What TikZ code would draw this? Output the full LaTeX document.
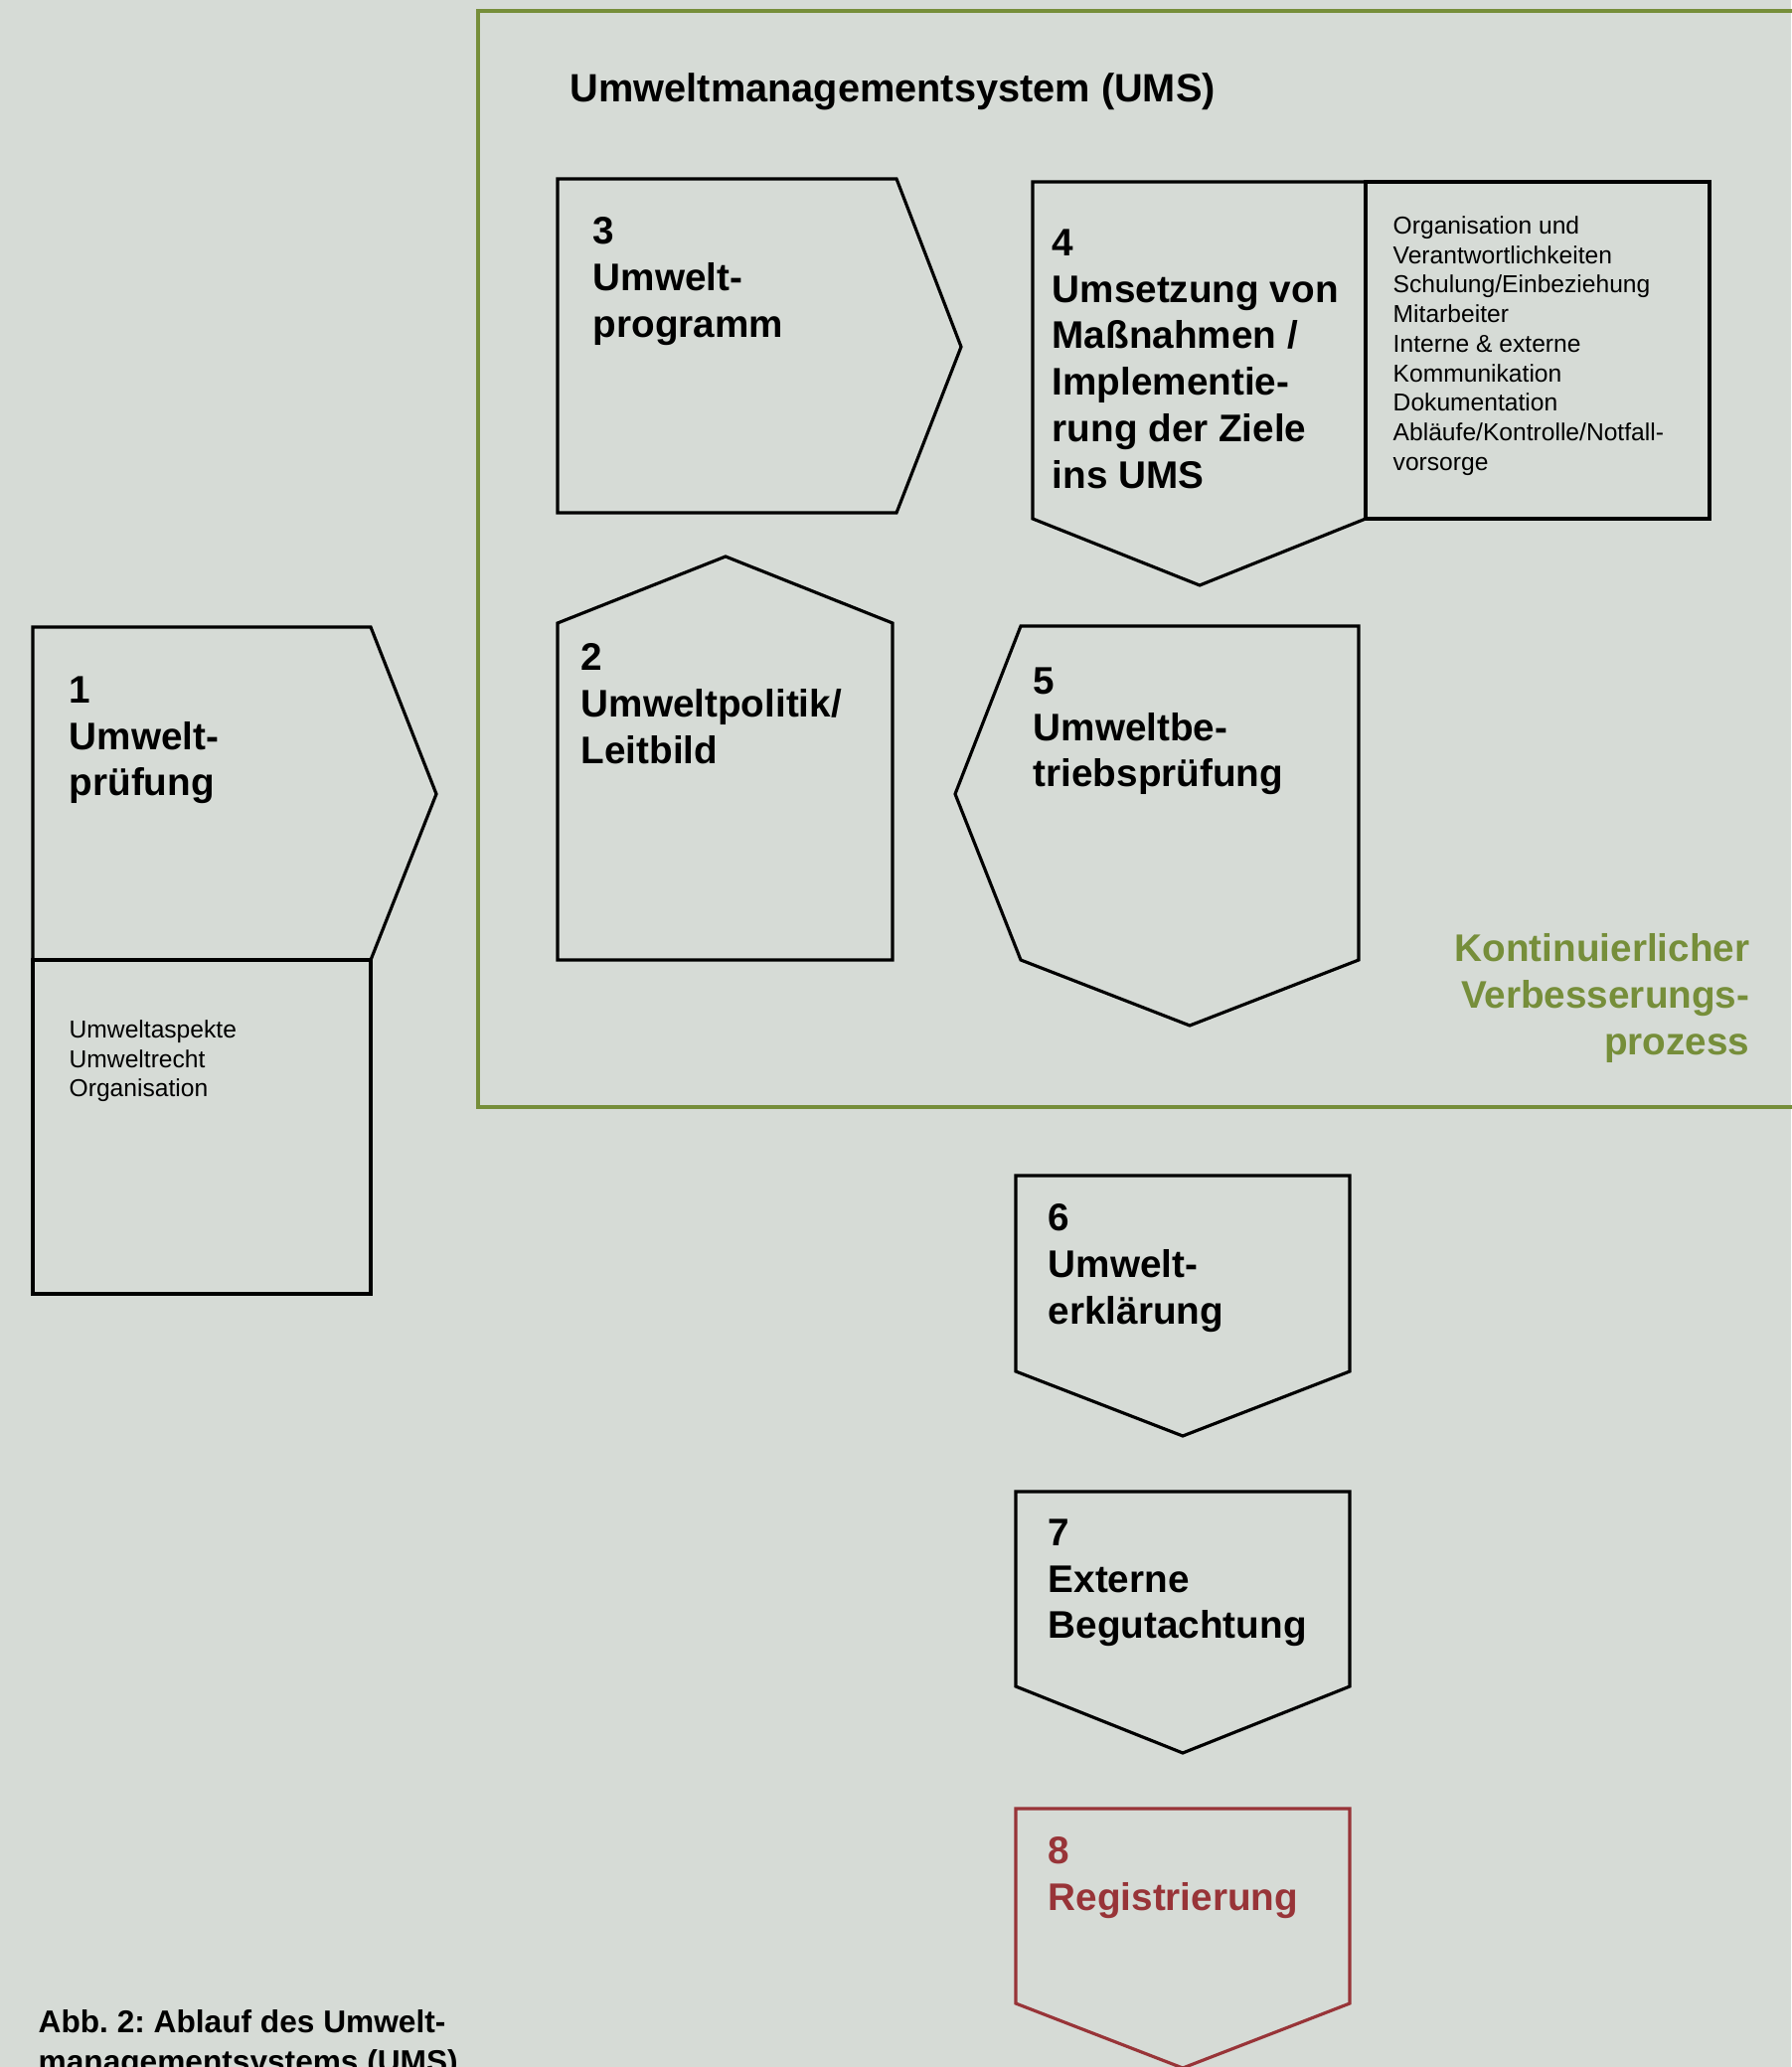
\documentclass[tikz,border=0pt]{standalone}
\usepackage{fontspec}
\setmainfont{Liberation Sans}
\usetikzlibrary{calc, positioning}
\definecolor{umsgreen}{RGB}{118,142,58}
\definecolor{umsred}{RGB}{152,52,56}
\definecolor{umsback}{RGB}{214,219,214}
\frenchspacing

\begin{document}
\begin{tikzpicture}[x=0.01cm, y=-0.01cm, line join=miter]
\tikzstyle{step shape}=[draw=black, line width=0.9pt]
\tikzstyle{step text}=[anchor=north west, inner sep=0, align=left, font=\bfseries\fontsize{11}{13.3}\selectfont]
\tikzstyle{small text}=[anchor=north west, inner sep=0, align=left, font=\fontsize{7}{8.45}\selectfont]
\tikzstyle{ums frame}=[draw=umsgreen, line width=0.9pt]

% background
\fill[umsback] (0,0) rectangle (1802,2080);
\useasboundingbox (0,0) rectangle (1802,2080);

% UMS frame
\draw[ums frame] (1850,11) -- (481,11) -- (481,1114) -- (1850,1114);
\node[step text, font=\bfseries\fontsize{11.3}{13.3}\selectfont] (title) at (573,73) {Umweltmanagementsystem (UMS)};
\node[step text, anchor=north east, align=right, text=umsgreen] (kvp) at (1761,939)
  {Kontinuierlicher\\Verbesserungs-\\prozess};

% 1 Umweltpruefung
\draw[step shape] (33,631) -- (373,631) -- (439,799) -- (373,966) -- (33,966) -- cycle;
\draw[step shape] (33,966) rectangle (373,1302);
\node[step text] (pruefung) at (69,680) {1\\Umwelt-\\prüfung};
\node[small text] (aspekte) at (69,1026) {Umweltaspekte\\Umweltrecht\\Organisation};

% 2 Umweltpolitik
\draw[step shape] (561,966) -- (561,627) -- (730,560) -- (898,627) -- (898,966) -- cycle;
\node[step text] (politik) at (584,647) {2\\Umweltpolitik/\\Leitbild};

% 3 Umweltprogramm
\draw[step shape] (561,180) -- (902,180) -- (967,349) -- (902,516) -- (561,516) -- cycle;
\node[step text] (programm) at (596,218) {3\\Umwelt-\\programm};

% 4 Umsetzung
\draw[step shape] (1039,183) -- (1374,183) -- (1374,522) -- (1207,589) -- (1039,522) -- cycle;
\draw[step shape] (1374,183) rectangle (1720,522);
\node[step text] (umsetzung) at (1058,230)
  {4\\Umsetzung von\\Maßnahmen /\\Implementie-\\rung der Ziele\\ins UMS};
\node[small text] (aufgaben) at (1401,217)
  {Organisation und\\Verantwortlichkeiten\\Schulung/Einbeziehung\\Mitarbeiter\\Interne \& externe\\Kommunikation\\Dokumentation\\Abläufe/Kontrolle/Notfall-\\vorsorge};

% 5 Umweltbetriebspruefung
\draw[step shape] (1027,630) -- (1367,630) -- (1367,966) -- (1197,1032) -- (1027,966) -- (961,799) -- cycle;
\node[step text] (betrieb) at (1039,671) {5\\Umweltbe-\\triebsprüfung};

% 6 - 8 down the column
\draw[step shape] (1022,1183) -- (1358,1183) -- (1358,1380) -- (1190,1445) -- (1022,1380) -- cycle;
\node[step text] (erklaerung) at (1054,1211) {6\\Umwelt-\\erklärung};

\draw[step shape] (1022,1501) -- (1358,1501) -- (1358,1697) -- (1190,1764) -- (1022,1697) -- cycle;
\node[step text] (gutachten) at (1054,1528) {7\\Externe\\Begutachtung};

\draw[step shape, draw=umsred] (1022,1820) -- (1358,1820) -- (1358,2016) -- (1190,2081) -- (1022,2016) -- cycle;
\node[step text, text=umsred] (registrierung) at (1054,1848) {8\\Registrierung};

% caption
\node[step text, font=\bfseries\fontsize{9}{11.3}\selectfont] (caption) at (38,2022)
  {Abb. 2: Ablauf des Umwelt-\\managementsystems (UMS)};
\end{tikzpicture}
\end{document}
